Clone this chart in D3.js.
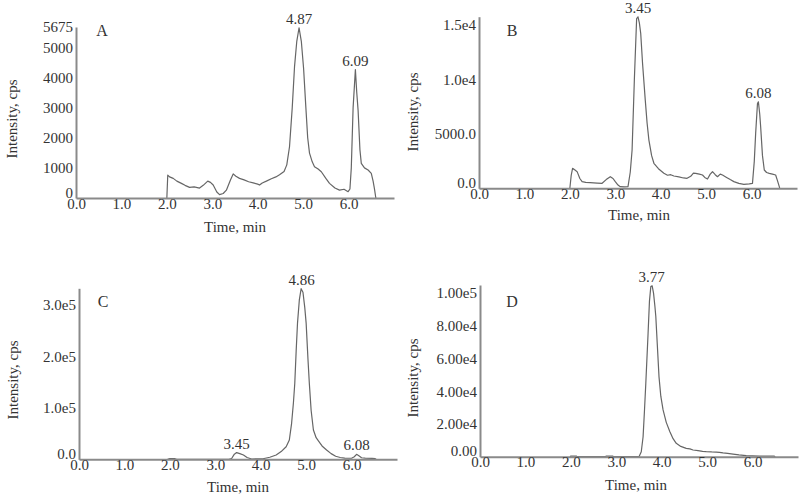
<!DOCTYPE html>
<html><head><meta charset="utf-8">
<script src="https://cdn.jsdelivr.net/npm/d3@7"></script>
<style>
body{margin:0;background:#fff}
svg{display:block}
text{font-family:"Liberation Serif","Times New Roman",serif;fill:#333}
</style>
</head><body>
<svg id="chart" width="800" height="496"></svg>
<script>
// ---------- data ----------
const timeTicks = [0, 1, 2, 3, 4, 5, 6];
const timeTickLabels = ["0.0", "1.0", "2.0", "3.0", "4.0", "5.0", "6.0"];

const yTicksA = [0, 1000, 2000, 3000, 4000, 5000, 5675];
const yTickLabelsA = ["0", "1000", "2000", "3000", "4000", "5000", "5675"];
const yTicksB = [0, 5000, 10000, 15000];
const yTickLabelsB = ["0.0", "5000.0", "1.0e4", "1.5e4"];
const yTicksC = [0, 100000, 200000, 300000];
const yTickLabelsC = ["0.0", "1.0e5", "2.0e5", "3.0e5"];
const yTicksD = [0, 20000, 40000, 60000, 80000, 100000];
const yTickLabelsD = ["0.00", "2.00e4", "4.00e4", "6.00e4", "8.00e4", "1.00e5"];

const traceA = [[2.0,0],[2.02,760],[2.06,700],[2.14,651],[2.22,560],[2.32,486],[2.4,420],[2.5,354],[2.6,370],[2.72,330],[2.8,420],[2.9,560],[2.96,520],[3.02,430],[3.1,200],[3.16,110],[3.24,150],[3.31,260],[3.4,600],[3.46,800],[3.52,720],[3.6,651],[3.7,600],[3.8,540],[3.9,500],[4.0,460],[4.04,430],[4.1,500],[4.19,560],[4.3,640],[4.4,700],[4.48,770],[4.58,880],[4.64,1100],[4.7,1700],[4.76,3000],[4.81,4350],[4.86,5200],[4.91,5650],[4.96,5200],[5.01,4300],[5.06,3000],[5.1,2000],[5.14,1490],[5.2,1200],[5.25,1040],[5.33,960],[5.4,870],[5.5,650],[5.58,486],[5.7,330],[5.8,260],[5.9,290],[5.99,210],[6.03,300],[6.06,1000],[6.1,3000],[6.15,4260],[6.18,3500],[6.21,2900],[6.25,1600],[6.28,1150],[6.35,1000],[6.43,930],[6.5,820],[6.54,560],[6.57,300],[6.6,0]];

const traceB = [[2.0,0],[2.03,1200],[2.06,1836],[2.12,1650],[2.16,1530],[2.22,900],[2.27,612],[2.35,540],[2.45,520],[2.6,480],[2.71,460],[2.8,800],[2.89,1071],[2.95,900],[3.0,612],[3.06,300],[3.11,153],[3.2,130],[3.28,153],[3.33,1500],[3.37,3520],[3.42,10000],[3.47,15600],[3.5,15760],[3.53,15200],[3.56,14230],[3.6,11500],[3.66,8100],[3.7,6000],[3.74,4430],[3.8,3000],[3.85,2300],[3.95,1800],[4.07,1377],[4.15,1200],[4.22,1250],[4.29,1130],[4.4,1050],[4.5,950],[4.58,918],[4.66,1100],[4.72,1400],[4.77,1377],[4.85,1300],[4.92,1221],[4.97,1000],[5.03,854],[5.09,1300],[5.14,1524],[5.2,1250],[5.25,1065],[5.31,1300],[5.36,1221],[5.45,1000],[5.53,800],[5.61,612],[5.72,450],[5.83,367],[5.95,400],[6.02,450],[6.06,2500],[6.09,5050],[6.13,7800],[6.15,7950],[6.18,6800],[6.2,5650],[6.24,3000],[6.28,1680],[6.33,1450],[6.39,1377],[6.46,1300],[6.53,1221],[6.57,700],[6.61,147],[6.62,0]];

const traceC = [[1.95,0],[2.0,1500],[2.1,1500],[2.15,0],[3.3,0],[3.36,1500],[3.42,10000],[3.47,13000],[3.54,11000],[3.62,8400],[3.7,3500],[3.8,600],[3.9,800],[4.05,1000],[4.2,4000],[4.34,8400],[4.45,15000],[4.56,24500],[4.63,37500],[4.68,70000],[4.72,110000],[4.75,148000],[4.78,210000],[4.81,265000],[4.85,310000],[4.89,332000],[4.93,325000],[4.97,295000],[5.0,265000],[5.04,195000],[5.07,148000],[5.11,95000],[5.16,57000],[5.22,42000],[5.27,36000],[5.35,26000],[5.45,18000],[5.55,11000],[5.65,6000],[5.75,3500],[5.85,2200],[6.0,2000],[6.06,5000],[6.11,9700],[6.16,7000],[6.22,3000],[6.3,2200],[6.45,1800],[6.52,1200],[6.54,0]];

const traceD = [[1.98,0],[2.0,400],[2.12,400],[2.14,0],[2.76,0],[2.78,400],[2.92,400],[2.94,0],[3.5,0],[3.55,3000],[3.59,12200],[3.62,28000],[3.65,44900],[3.7,75500],[3.73,95000],[3.76,104000],[3.79,104500],[3.82,100000],[3.85,92000],[3.87,85700],[3.9,70000],[3.94,49000],[3.98,37000],[4.03,28600],[4.1,21000],[4.18,15300],[4.25,11000],[4.32,8200],[4.42,6300],[4.54,5100],[4.62,4800],[4.69,4100],[4.8,3700],[4.9,3300],[4.98,3100],[5.1,2900],[5.2,2800],[5.27,2700],[5.35,2300],[5.45,2000],[5.57,1600],[5.7,1100],[5.86,600],[6.0,500],[6.15,400],[6.3,350],[6.48,300],[6.5,0]];

const peakLabelsA = ["4.87", "6.09"], peakTimesA = [4.91, 6.15], peakValuesA = [5650, 4260];
const peakLabelsB = ["3.45", "6.08"], peakTimesB = [3.5, 6.15], peakValuesB = [15760, 7950];
const peakLabelsC = ["4.86", "3.45", "6.08"], peakTimesC = [4.9, 3.47, 6.11], peakValuesC = [332000, 13000, 9700];
const peakLabelsD = ["3.77"], peakTimesD = [3.78], peakValuesD = [104500];

// ---------- layout ----------
const panels = [
  {id:"A", trace:traceA, ticks:yTicksA, tickLabels:yTickLabelsA, yMax:5675, peaks:[peakLabelsA,peakTimesA,peakValuesA],
   x0:76, base:198, top:27, letter:[102,36], ylab:[12,119], xlab:[235,232]},
  {id:"B", trace:traceB, ticks:yTicksB, tickLabels:yTickLabelsB, yMax:15770, peaks:[peakLabelsB,peakTimesB,peakValuesB],
   x0:479, base:188.3, top:16.7, letter:[512,36], ylab:[413,112], xlab:[639,220]},
  {id:"C", trace:traceC, ticks:yTicksC, tickLabels:yTickLabelsC, yMax:332700, peaks:[peakLabelsC,peakTimesC,peakValuesC],
   x0:79, base:459.3, top:288.3, letter:[103,307], ylab:[13,380], xlab:[238,492]},
  {id:"D", trace:traceD, ticks:yTicksD, tickLabels:yTickLabelsD, yMax:105000, peaks:[peakLabelsD,peakTimesD,peakValuesD],
   x0:480, base:456.7, top:285, letter:[512,307], ylab:[413,378], xlab:[636,490]}
];

const svg = d3.select("#chart");
svg.append("rect").attr("width",800).attr("height",496).attr("fill","#fff");

panels.forEach(p => {
  const x = d3.scaleLinear().domain([0, 7]).range([p.x0, p.x0 + 318]);
  const y = d3.scaleLinear().domain([0, p.yMax]).range([p.base, p.top]);
  const g = svg.append("g");

  // trace
  g.append("path").datum(p.trace)
    .attr("fill","none").attr("stroke","#666").attr("stroke-width",1.2)
    .attr("stroke-linejoin","round")
    .attr("d", d3.line().x(d => x(d[0])).y(d => y(d[1])));

  // x axis
  const xa = g.append("g").attr("transform",`translate(0,${p.base})`)
    .call(d3.axisBottom(x).tickValues(timeTicks).tickFormat((d,i)=>timeTickLabels[i]).tickSize(0).tickSizeOuter(0).tickPadding(0));
  xa.select(".domain").attr("stroke","#8a8a8a").attr("stroke-width",2);
  xa.selectAll("text").attr("font-size",15).attr("fill","#333").style("font-family","'Liberation Serif',serif");

  // y axis
  const ya = g.append("g").attr("transform",`translate(${p.x0},0)`)
    .call(d3.axisLeft(y).tickValues(p.ticks).tickFormat((d,i)=>p.tickLabels[i]).tickSize(0).tickSizeOuter(0).tickPadding(3));
  ya.select(".domain").attr("stroke","#8a8a8a").attr("stroke-width",2);
  ya.selectAll("text").attr("font-size",15).attr("fill","#333").style("font-family","'Liberation Serif',serif")
    .attr("dy", (d,i) => i === 0 ? "-0.05em" : "0.32em");

  // labels
  g.append("text").attr("x",p.xlab[0]).attr("y",p.xlab[1]).attr("text-anchor","middle")
    .attr("font-size",15).text("Time, min");
  g.append("text").attr("transform",`translate(${p.ylab[0]},${p.ylab[1]}) rotate(-90)`)
    .attr("text-anchor","middle").attr("dy","0.35em").attr("font-size",15).text("Intensity, cps");
  g.append("text").attr("x",p.letter[0]).attr("y",p.letter[1]).attr("text-anchor","middle")
    .attr("font-size",16).text(p.id);

  // peak labels
  const [labs, ts, vs] = p.peaks;
  labs.forEach((lab, i) => {
    g.append("text").attr("x", x(ts[i])).attr("y", y(vs[i]) - 4)
      .attr("text-anchor","middle").attr("font-size",15).text(lab);
  });
});
</script>
</body></html>
